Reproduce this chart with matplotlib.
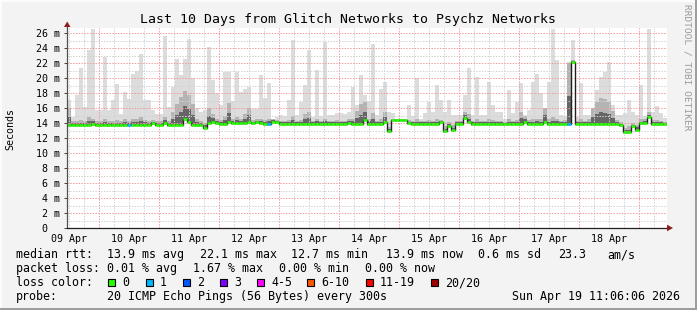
import datetime as dt
import numpy as np
import matplotlib
matplotlib.use("Agg")
import matplotlib.pyplot as plt
import matplotlib.dates as mdates
from matplotlib.patches import Rectangle, Polygon

# ---------------- data ----------------
title = "Last 10 Days from Glitch Networks to Psychz Networks"
start = dt.datetime(2026, 4, 9, 11, 6, 6)
end = dt.datetime(2026, 4, 19, 11, 6, 6)
day_labels = ["09 Apr", "10 Apr", "11 Apr", "12 Apr", "13 Apr",
              "14 Apr", "15 Apr", "16 Apr", "17 Apr", "18 Apr"]
y_ticks = [0, 2, 4, 6, 8, 10, 12, 14, 16, 18, 20, 22, 24, 26]

# median RTT per 96-minute bin (ms)
median = [
    13.75, 13.75, 13.75, 13.75, 13.75, 13.75, 13.9, 13.75, 13.75, 13.75,
    13.75, 13.75, 13.75, 13.75, 13.75, 13.8, 13.8, 13.8, 13.8, 13.8,
    13.8, 14.0, 13.8, 13.8, 14.0, 13.75, 13.75, 13.8, 13.8, 14.5,
    14.2, 13.8, 13.75, 13.75, 13.4, 14.0, 14.2, 14.0, 13.9, 13.9,
    14.2, 14.0, 14.0, 14.0, 14.0, 14.2, 14.0, 14.1, 14.0, 13.9,
    13.9, 14.2, 14.2, 13.9, 13.9, 13.9, 13.9, 13.9, 13.9, 13.9,
    13.9, 13.9, 13.9, 13.9, 13.9, 13.9, 13.9, 13.9, 13.9, 13.9,
    14.0, 13.9, 13.9, 13.9, 14.4, 13.9, 13.9, 13.9, 13.9, 14.2,
    12.9, 14.35, 14.35, 14.35, 14.35, 14.0, 13.9, 13.9, 13.9, 13.9,
    13.9, 13.9, 13.9, 14.1, 12.9, 13.6, 13.1, 13.9, 13.9, 14.7,
    14.1, 13.9, 13.9, 13.9, 13.9, 13.9, 13.9, 13.9, 13.9, 13.9,
    13.9, 13.9, 13.9, 13.9, 14.1, 13.9, 13.9, 13.9, 13.9, 14.2,
    13.9, 13.9, 13.9, 13.9, 13.9, 13.9, 22.1, 13.9, 13.9, 13.9,
    13.9, 13.9, 13.9, 13.9, 13.9, 13.9, 13.9, 13.9, 13.7, 12.75,
    12.75, 13.55, 13.1, 13.95, 14.0, 14.8, 13.9, 13.9, 13.9, 13.9,
]

# highest ping of the bin (light smoke top, ms)
smoke_max = [
    17.1, 14.8, 17.7, 21.3, 16.2, 23.7, 26.6, 15.7, 15.7, 22.8,
    15.7, 17.1, 19.2, 15.2, 18.2, 17.2, 20.5, 21.0, 23.2, 17.1,
    17.1, 15.7, 15.2, 15.2, 25.6, 16.1, 18.8, 22.5, 20.4, 22.6,
    25.2, 20.0, 16.0, 15.5, 15.8, 24.2, 19.7, 18.0, 16.4, 20.8,
    20.8, 17.0, 20.8, 18.2, 18.6, 18.8, 15.9, 15.9, 20.4, 17.3,
    19.3, 14.6, 14.8, 15.1, 15.0, 17.1, 25.1, 15.1, 16.8, 19.1,
    23.7, 14.8, 21.1, 15.0, 24.8, 15.1, 15.1, 15.3, 15.3, 15.2,
    15.5, 18.8, 16.4, 20.4, 17.7, 17.0, 24.6, 15.1, 18.6, 19.5,
    15.5, 15.4, 14.6, 14.6, 14.6, 16.4, 15.0, 20.0, 14.6, 15.3,
    16.8, 15.5, 19.1, 17.1, 15.5, 17.1, 15.1, 15.1, 15.1, 17.7,
    21.3, 15.1, 20.2, 15.1, 15.1, 19.5, 16.4, 15.5, 15.5, 14.5,
    18.4, 15.3, 16.8, 19.3, 15.1, 15.8, 19.5, 20.6, 18.0, 15.1,
    19.5, 26.6, 22.4, 15.1, 15.0, 22.2, 25.1, 14.8, 19.3, 15.1,
    15.1, 15.1, 18.4, 20.2, 20.8, 22.2, 16.4, 15.1, 15.1, 15.3,
    17.1, 15.5, 15.1, 19.1, 14.9, 26.6, 15.5, 16.3, 15.3, 14.7,
]

# upper quartile of the bin (darker smoke top, ms)
smoke_mid = [
    16.0, 14.3, 14.3, 14.4, 14.3, 14.8, 14.6, 14.3, 14.3, 14.5,
    14.3, 14.3, 14.4, 14.3, 14.6, 14.3, 14.5, 14.6, 14.8, 14.4,
    14.3, 14.4, 14.3, 14.3, 14.8, 14.3, 15.5, 16.5, 17.5, 18.3,
    17.8, 16.5, 14.6, 14.3, 14.0, 16.0, 15.2, 14.5, 14.4, 15.0,
    16.6, 14.5, 14.8, 14.5, 15.2, 16.0, 14.4, 14.5, 14.6, 14.4,
    14.6, 14.5, 14.4, 14.3, 14.3, 14.4, 15.0, 14.3, 14.4, 15.2,
    15.5, 14.3, 14.6, 14.3, 14.6, 14.3, 14.3, 14.4, 14.3, 14.3,
    14.5, 14.6, 15.6, 16.5, 16.8, 14.6, 15.3, 14.3, 14.5, 15.5,
    13.5, 14.6, 14.6, 14.6, 14.6, 14.4, 14.3, 14.5, 14.3, 14.3,
    14.4, 14.3, 14.5, 14.4, 13.6, 14.2, 13.7, 14.3, 14.3, 15.5,
    15.2, 14.3, 14.5, 14.3, 14.3, 14.5, 14.4, 14.3, 14.3, 14.2,
    14.5, 14.3, 14.4, 15.5, 15.0, 14.4, 14.5, 14.6, 14.5, 16.0,
    14.5, 14.8, 14.6, 14.3, 14.4, 22.0, 22.4, 14.3, 14.5, 14.3,
    14.5, 16.0, 16.8, 17.3, 17.2, 16.8, 15.6, 14.4, 14.2, 13.4,
    13.6, 14.0, 13.8, 14.5, 14.5, 15.5, 14.4, 14.4, 14.3, 14.2,
]

# lost pings (of 20) per bin
loss = [0] * 150
loss[15] = 1
loss[50] = 1
loss[125] = 1

loss_labels = ["0", "1", "2", "3", "4-5", "6-10", "11-19", "20/20"]
loss_colors = ["#26ff00", "#00b8ff", "#0059ff", "#7e00ff",
               "#ff00ff", "#ff5500", "#ff0000", "#a10000"]

stats_rtt = ["13.9 ms avg", "22.1 ms max", "12.7 ms min", "13.9 ms now",
             "0.6 ms sd", "23.3", "am/s"]
stats_loss = ["0.01 % avg", "1.67 % max", "0.00 % min", "0.00 % now"]
probe_text = "20 ICMP Echo Pings (56 Bytes) every 300s"
stamp = "Sun Apr 19 11:06:06 2026"


def loss_color(n):
    if n == 0:
        return loss_colors[0]
    if n == 1:
        return loss_colors[1]
    if n == 2:
        return loss_colors[2]
    if n == 3:
        return loss_colors[3]
    if n <= 5:
        return loss_colors[4]
    if n <= 10:
        return loss_colors[5]
    if n <= 19:
        return loss_colors[6]
    return loss_colors[7]


# ---------------- figure ----------------
W, H = 697, 310
MONO = "DejaVu Sans Mono"
fig = plt.figure(figsize=(W / 100, H / 100), dpi=100, facecolor="#f3f3f3")


def fx(x):
    return x / W


def fy(y):
    return 1 - y / H


# 3D-ish frame
fig.patches.append(Rectangle((fx(0), fy(310)), fx(697), 2 / H, transform=fig.transFigure,
                             facecolor="#9e9e9e", lw=0, zorder=1))
fig.patches.append(Rectangle((fx(695), fy(310)), 2 / W, 1, transform=fig.transFigure,
                             facecolor="#9e9e9e", lw=0, zorder=1))
fig.patches.append(Rectangle((fx(0), fy(2)), fx(695), 2 / H, transform=fig.transFigure,
                             facecolor="#fcfcfc", lw=0, zorder=1))
fig.patches.append(Rectangle((fx(0), fy(308)), 2 / W, 306 / H, transform=fig.transFigure,
                             facecolor="#fcfcfc", lw=0, zorder=1))

L, R, T, B = 67, 667, 28, 228
ymax = (B - T) / 7.5
ax = fig.add_axes([fx(L), fy(B), (R - L) / W, (B - T) / H])
ax.set_facecolor("white")
t0 = mdates.date2num(start)
t1 = mdates.date2num(end)
ax.set_xlim(t0, t1)
ax.set_ylim(0, ymax)
for s in ax.spines.values():
    s.set_visible(False)

n = len(median)
edges = t0 + np.arange(n + 1) * (t1 - t0) / n
med = np.array(median)
mx = np.array(smoke_max)
md = np.array(smoke_mid)

# smoke
ax.stairs(mx, edges, baseline=med - 0.25, fill=True, color="#dcdcdc", lw=0, zorder=2)
ax.stairs(md, edges, baseline=med, fill=True, color="#b4b4b4", lw=0, zorder=3)
ax.stairs(med + 0.45 * (md - med), edges, baseline=med, fill=True,
          color="#666666", lw=0, zorder=4)

# grid
day0 = dt.datetime(2026, 4, 10)
major_x = [mdates.date2num(day0 + dt.timedelta(days=k)) for k in range(10)]
minor_x = []
t = dt.datetime(2026, 4, 9, 12)
while t < end:
    if t.hour != 0:
        minor_x.append(mdates.date2num(t))
    t += dt.timedelta(hours=6)
grid_kw = dict(lw=0.72, linestyle=(0, (1.4, 1.4)), zorder=5)
for v in minor_x:
    ax.axvline(v, color="#d2d2d2", **grid_kw)
for yv in range(1, 27, 2):
    ax.axhline(yv, color="#d2d2d2", **grid_kw)
for v in major_x:
    ax.axvline(v, color="#f29a9a", **grid_kw)
for yv in y_ticks[1:]:
    ax.axhline(yv, color="#f29a9a", **grid_kw)

# median line: dark steps + loss-coloured level segments
ax.stairs(med, edges, baseline=None, color="#202020", lw=1.0, zorder=6)
ax.hlines(med, edges[:-1], edges[1:], colors=[loss_color(v) for v in loss],
          lw=1.8, zorder=7, capstyle="butt")

# axes lines and arrows
ax.plot([t0, t0], [0, ymax + 0.25], color="#505050", lw=0.9, zorder=8, clip_on=False)
ax.plot([t0, t1 + 0.01], [0, 0], color="#202020", lw=0.9, zorder=8, clip_on=False)
fig.patches.append(Polygon([(fx(64), fy(27)), (fx(70.5), fy(27)), (fx(67.2), fy(21.5))],
                           closed=True, transform=fig.transFigure,
                           facecolor="#8e1d1d", lw=0, zorder=9))
fig.patches.append(Polygon([(fx(667), fy(224.7)), (fx(667), fy(231.3)), (fx(673), fy(228))],
                           closed=True, transform=fig.transFigure,
                           facecolor="#8e1d1d", lw=0, zorder=9))

# ticks
ax.set_yticks(y_ticks)
ax.set_yticklabels(["0  "] + ["%d m" % v for v in y_ticks[1:]],
                   family=MONO, fontsize=7.2)
ax.tick_params(axis="y", length=2.2, width=0.7, color="#404040", pad=3.2)
noons = [mdates.date2num(dt.datetime(2026, 4, 9, 12) + dt.timedelta(days=k))
         for k in range(10)]
ax.set_xticks(noons)
ax.set_xticklabels(day_labels, family=MONO, fontsize=7.2)
ax.tick_params(axis="x", length=0, pad=4.2)

# titles
fig.text(fx(348), fy(19), title, family=MONO, fontsize=9.57,
         ha="center", va="center")
fig.text(fx(10), fy(129), "Seconds", family=MONO, fontsize=7.2,
         rotation=90, ha="center", va="center")
fig.text(fx(687.5), fy(4), "RRDTOOL / TOBI OETIKER", family=MONO, fontsize=6.8,
         rotation=270, ha="center", va="top", color="#9a9a9a")

# legend
FS = 8.37
fig.text(fx(16), fy(254.5), "median rtt:", family=MONO, fontsize=FS, va="center")
for xs, s in zip([107, 200, 291, 386, 478, 558, 607], stats_rtt):
    fig.text(fx(xs), fy(254.5), s, family=MONO, fontsize=FS, va="center")
fig.text(fx(16), fy(268.5), "packet loss:", family=MONO, fontsize=FS, va="center")
for xs, s in zip([107, 193, 279, 365], stats_loss):
    fig.text(fx(xs), fy(268.5), s, family=MONO, fontsize=FS, va="center")
fig.text(fx(16), fy(282.5), "loss color:", family=MONO, fontsize=FS, va="center")
box_x = [108, 146, 183, 220, 257, 307, 366, 431]
for bx, lab, col in zip(box_x, loss_labels, loss_colors):
    fig.patches.append(Rectangle((fx(bx), fy(286)), 7 / W, 7 / H,
                                 transform=fig.transFigure, facecolor=col,
                                 edgecolor="black", lw=0.8, zorder=5))
    fig.text(fx(bx + 14), fy(282.5), lab, family=MONO, fontsize=FS, va="center")
fig.text(fx(16), fy(296.5), "probe:", family=MONO, fontsize=FS, va="center")
fig.text(fx(107), fy(296.5), probe_text, family=MONO, fontsize=FS, va="center")
fig.text(fx(680), fy(296.5), stamp, family=MONO, fontsize=FS, va="center", ha="right")

fig.savefig("out.png", dpi=100, facecolor=fig.get_facecolor())
